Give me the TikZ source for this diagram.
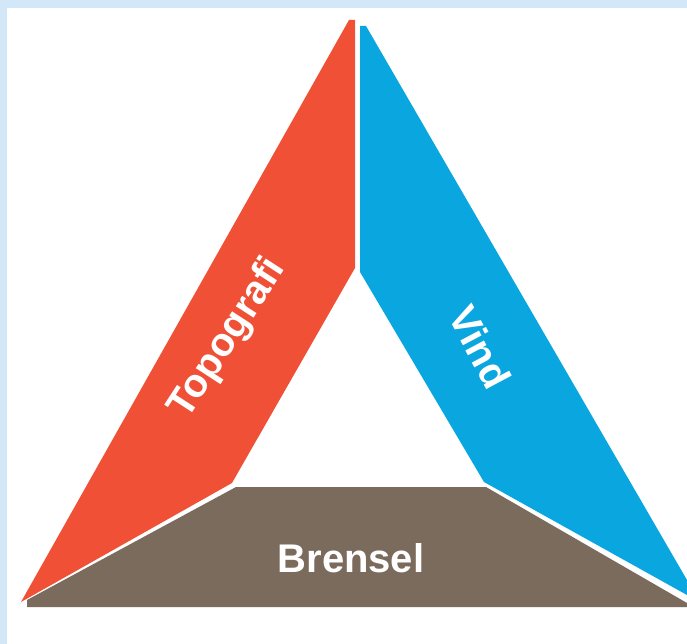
\documentclass[tikz,border=0pt]{standalone}
\usepackage{fontspec}
\setmainfont{Liberation Sans}
\usepackage{xcolor}
\definecolor{frameblue}{HTML}{D2E7F8}
\definecolor{firered}{HTML}{F05035}
\definecolor{windblue}{HTML}{0AA6DF}
\definecolor{fuelbrown}{HTML}{7B6B5C}

\begin{document}
\begin{tikzpicture}[x=1pt,y=-1pt,
    sidetext/.style={text=white,inner sep=0pt,font=\fontsize{40}{46}\selectfont\bfseries}]
        \useasboundingbox(0,0)rectangle(687,644);
        \fill[frameblue](0,0)rectangle(687,8);
        \fill[frameblue](0,0)rectangle(7,644);
        \fill[firered](349,20)--(355,20)--(355,268)--(232,483)--(21,602)--cycle;
        \fill[windblue](360,26)--(366,26)--(687,580)--(687,595)--(484,482)--(360,272)--cycle;
        \fill[fuelbrown](27,607)--(27,600)--(236,487)--(486,487)--(687,603)--(687,607)--cycle;
        \node[sidetext,rotate=57](topo)at(228,339){Topografi};
        \node[sidetext,rotate=-62](vind)at(480,347){Vind};
        \node[sidetext](brensel)at(351,558){Brensel};
      \end{tikzpicture}
\end{document}
